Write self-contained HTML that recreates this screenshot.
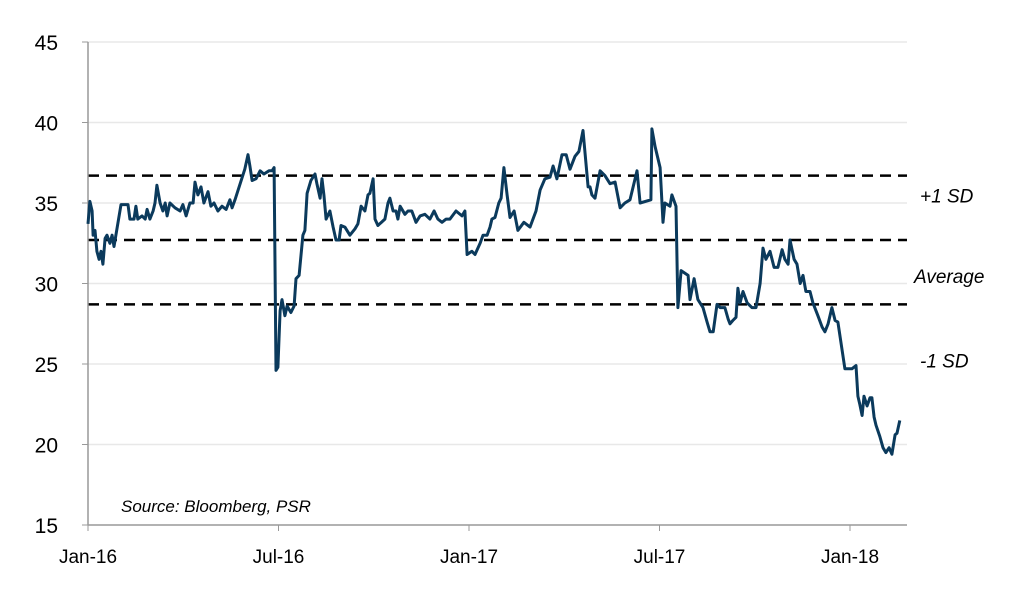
<!DOCTYPE html>
<html><head><meta charset="utf-8"><style>
body{margin:0;background:#fff}
svg text{font-family:"Liberation Sans",sans-serif}
</style></head><body>
<svg id="chart" width="1024" height="587" viewBox="0 0 1024 587" xmlns="http://www.w3.org/2000/svg">
<g id="grid"></g>
<g id="bands"></g>
<g id="axes"></g>
<g id="series"></g>
<text x="121" y="512" font-size="17" font-style="italic" fill="#000">Source: Bloomberg, PSR</text>
</svg>
<script>
const yTicks=[15,20,25,30,35,40,45];
const xTickMonths=[0,6,12,18,24];
const xTickLabels=["Jan-16","Jul-16","Jan-17","Jul-17","Jan-18"];
const bandValues=[36.7,32.7,28.7];
const bandLabels=["+1 SD","Average","-1 SD"];
const months=[0,.06,.13,.16,.22,.28,.35,.41,.47,.54,.6,.69,.76,.82,1.04,1.26,1.32,1.45,1.51,1.57,1.7,1.8,1.86,1.95,2.05,2.11,2.17,2.27,2.36,2.43,2.49,2.58,2.74,2.9,2.99,3.09,3.21,3.31,3.37,3.46,3.56,3.65,3.78,3.87,3.97,4.09,4.22,4.35,4.47,4.54,4.63,4.94,5.04,5.1,5.17,5.29,5.42,5.54,5.7,5.8,5.86,5.92,5.98,6.05,6.11,6.2,6.27,6.39,6.49,6.55,6.65,6.77,6.83,6.9,7.02,7.15,7.21,7.31,7.37,7.43,7.5,7.62,7.72,7.81,7.91,7.97,8.09,8.25,8.41,8.5,8.6,8.72,8.82,8.88,8.98,9.04,9.13,9.35,9.45,9.51,9.61,9.7,9.76,9.83,9.98,10.08,10.2,10.33,10.46,10.61,10.77,10.9,11.02,11.15,11.28,11.4,11.59,11.78,11.87,11.94,12.09,12.19,12.35,12.44,12.57,12.66,12.72,12.82,12.94,13.01,13.1,13.2,13.29,13.42,13.54,13.73,13.92,14.11,14.24,14.39,14.55,14.65,14.77,14.93,15.06,15.18,15.34,15.46,15.59,15.75,15.81,15.87,15.97,16.13,16.28,16.44,16.6,16.76,16.91,17.07,17.29,17.39,17.73,17.76,17.86,18.02,18.11,18.17,18.33,18.39,18.52,18.58,18.68,18.9,18.96,19.09,19.21,19.37,19.5,19.59,19.69,19.81,19.91,20.06,20.16,20.22,20.31,20.41,20.47,20.54,20.63,20.76,20.91,21.04,21.17,21.26,21.35,21.48,21.61,21.73,21.86,21.95,22.05,22.11,22.24,22.33,22.43,22.52,22.61,22.74,22.83,22.99,23.12,23.21,23.31,23.43,23.53,23.62,23.84,24.06,24.19,24.25,24.31,24.38,24.44,24.54,24.63,24.69,24.76,24.82,24.94,25.04,25.13,25.23,25.32,25.42,25.48,25.57];
const values=[33.7,35.1,34.5,33,33.3,32,31.5,32,31.2,32.8,33,32.5,33,32.3,34.9,34.9,34,34,34.8,34,34.2,34,34.6,34,34.5,35,36.1,35,34.5,35,34.2,35,34.7,34.5,34.9,34.2,35,35,36.3,35.5,36,35,35.7,34.8,35,34.5,34.8,34.6,35.2,34.7,35.2,37.1,38,37.3,36.4,36.5,37,36.8,37,37,37.2,24.6,24.8,28.3,29,28,28.6,28.2,28.6,30.3,30.5,33,33.3,35.6,36.4,36.8,36.2,35.3,36.5,35.5,34,34.5,33.5,32.7,32.7,33.6,33.5,33,33.4,33.7,34.8,34.5,35.5,35.6,36.5,34,33.6,34,35,35.3,34.5,34.5,34,34.8,34.3,34.5,34.5,33.8,34.2,34.3,34,34.5,34,33.8,34,34,34.5,34.2,34.5,31.8,32,31.8,32.5,33,33,33.5,34,34.1,35,35.3,37.2,35.5,34.1,34.5,33.3,33.8,33.5,34.5,35.8,36.5,36.6,37.3,36.5,38,38,37.1,37.9,38.2,39.5,36,36,35.5,35.3,37,36.7,36.2,36.3,34.7,35,35.2,37,35,35.2,39.6,38.5,37.2,33.8,35,34.8,35.5,34.8,28.5,30.8,30.5,29,30.3,29,28.5,27.6,27,27,28.7,28.5,28.5,27.8,27.5,27.7,27.9,29.7,28.8,29.5,28.8,28.5,28.5,30,32.2,31.5,32,31,31,32.1,31.5,31.2,32.7,31.5,31.2,30,30.5,29.5,29.5,28.8,28,27.3,27,27.5,28.5,27.7,27.6,24.7,24.7,24.9,23,22.5,21.8,23,22.4,22.9,22.9,21.7,21.2,20.5,19.8,19.5,19.8,19.4,20.6,20.7,21.5];

const NS="http://www.w3.org/2000/svg";
const X0=88,X1=907,PX_PER_MONTH=(850-88)/24;
const Y0=525,PX_PER_UNIT=(525-42)/30;
function xScale(m){return X0+m*PX_PER_MONTH;}
function yScale(v){return Y0-(v-15)*PX_PER_UNIT;}
function mk(tag,attrs,parent){const e=document.createElementNS(NS,tag);for(const k in attrs)e.setAttribute(k,attrs[k]);parent.appendChild(e);return e;}
const grid=document.getElementById('grid'),axes=document.getElementById('axes'),bands=document.getElementById('bands'),series=document.getElementById('series');

yTicks.forEach(v=>{
  if(v>15){const g=mk('line',{x1:X0,x2:X1,y1:yScale(v),y2:yScale(v),stroke:'#e8e8e8','stroke-width':1.5},grid);
  
  }
  const t=mk('line',{x1:X0-6,x2:X0,y1:yScale(v),y2:yScale(v),stroke:'#999','stroke-width':1},axes);
  
  
  const l=mk('text',{x:58,y:yScale(v)+8,'font-size':21,'text-anchor':'end',fill:'#000'},axes);
  l.textContent=v;
  
  
});
const ya=mk('line',{x1:X0,x2:X0,y1:42,y2:Y0,stroke:'#999','stroke-width':1.5},axes);


const xa=mk('line',{x1:X0,x2:X1,y1:Y0,y2:Y0,stroke:'#999','stroke-width':1.5},axes);


xTickMonths.forEach((m,i)=>{
  const t=mk('line',{x1:xScale(m),x2:xScale(m),y1:Y0,y2:Y0+6,stroke:'#999','stroke-width':1},axes);
  
  
  const l=mk('text',{x:xScale(m),y:563,'font-size':19,'text-anchor':'middle',fill:'#000'},axes);
  l.textContent=xTickLabels[i];
  
  
});
const labelOffsets=[27,43,63];
bandValues.forEach((v,i)=>{
  const d=mk('line',{x1:X0,x2:X1,y1:yScale(v),y2:yScale(v),stroke:'#000','stroke-width':2.5,'stroke-dasharray':'11 7'},bands);
  
  
  const l=mk('text',{x:i==1?914:920,y:yScale(v)+labelOffsets[i],'font-size':19,'font-style':'italic',fill:'#000'},bands);
  l.textContent=bandLabels[i];
  
  
});
const pts=months.map((m,i)=>xScale(m).toFixed(1)+','+yScale(values[i]).toFixed(1)).join(' ');
const p=mk('polyline',{points:pts,fill:'none',stroke:'#0b3a5c','stroke-width':3,'stroke-linejoin':'round'},series);


</script>
</body></html>
